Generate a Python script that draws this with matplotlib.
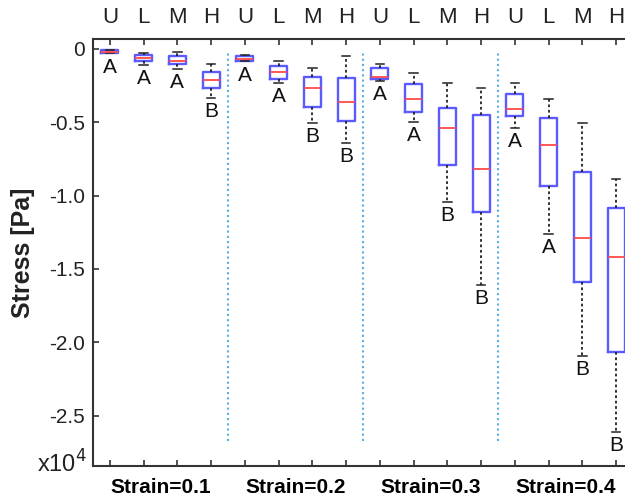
import numpy as np
import matplotlib
matplotlib.use("Agg")
import matplotlib.pyplot as plt

plt.rcParams['font.family'] = ['Liberation Sans', 'DejaVu Sans']

# ---------------- data (stress in units of 1e4 Pa) ----------------
groups = ["U", "L", "M", "H"]
strains = ["Strain=0.1", "Strain=0.2", "Strain=0.3", "Strain=0.4"]

whis_hi = [-0.005, -0.03, -0.022, -0.104,
           -0.041, -0.082, -0.132, -0.046,
           -0.104, -0.161, -0.234, -0.268,
           -0.234, -0.341, -0.507, -0.888]
q3 = [-0.010, -0.040, -0.048, -0.159,
      -0.046, -0.114, -0.189, -0.200,
      -0.132, -0.241, -0.400, -0.450,
      -0.307, -0.472, -0.836, -1.082]
med = [-0.018, -0.059, -0.080, -0.209,
       -0.070, -0.159, -0.264, -0.359,
       -0.193, -0.343, -0.540, -0.820,
       -0.411, -0.652, -1.288, -1.420]
q1 = [-0.025, -0.080, -0.102, -0.268,
      -0.082, -0.205, -0.397, -0.489,
      -0.202, -0.427, -0.790, -1.113,
      -0.455, -0.932, -1.590, -2.067]
whis_lo = [-0.030, -0.110, -0.136, -0.336,
           -0.085, -0.230, -0.502, -0.639,
           -0.218, -0.495, -1.040, -1.609,
           -0.536, -1.261, -2.093, -2.609]
letters = ["A", "A", "A", "B",
           "A", "A", "B", "B",
           "A", "A", "B", "B",
           "A", "A", "B", "B"]

pos = np.arange(1, len(med) + 1)

stats = []
for i in range(len(med)):
    stats.append({'whislo': whis_lo[i], 'q1': q1[i], 'med': med[i],
                  'q3': q3[i], 'whishi': whis_hi[i], 'fliers': []})

fig = plt.figure(figsize=(6.25, 4.98), dpi=100)
ax = fig.add_axes([0.1488, 0.0643, 0.8640, 0.8574])

ax.bxp(stats, positions=pos, widths=0.5, capwidths=0.25, showfliers=False,
       boxprops=dict(color='#5a5aff', linewidth=1.7),
       medianprops=dict(color='#ff4a4a', linewidth=1.3),
       whiskerprops=dict(color='#222222', linewidth=1.3, linestyle=(0, (1.5, 1.5))),
       capprops=dict(color='#222222', linewidth=1.1))

# significance letters under the lower whisker
for p, lo, t in zip(pos, whis_lo, letters):
    ax.annotate(t, (p, lo), xytext=(0, -3), textcoords='offset points',
                ha='center', va='top', fontsize=15, color='#111111')

# separators between strain groups
for b in [4.5, 8.5, 12.5]:
    ax.vlines(b, -2.67, -0.03, colors='#5aaee0', linestyles=(0, (1, 1.5)), linewidth=1.5)

ax.set_xlim(0.5, 16.5)
ax.set_ylim(-2.843, 0.068)

# top: U L M H
ax.set_xticks(pos)
ax.set_xticklabels(groups * 4)
ax.tick_params(axis='x', which='major', top=True, bottom=True, labeltop=True,
               labelbottom=False, direction='in', length=4, width=1.2,
               labelsize=16, pad=8, colors='#333333', labelcolor='#222222')
# bottom: strain groups
ax.set_xticks([2.5, 6.5, 10.5, 14.5], minor=True)
ax.set_xticklabels(strains, minor=True, fontweight='bold')
ax.tick_params(axis='x', which='minor', length=0, labelbottom=True,
               labeltop=False, labelsize=15, pad=9)

ax.set_yticks([0, -0.5, -1.0, -1.5, -2.0, -2.5])
ax.set_yticklabels(["0", "-0.5", "-1.0", "-1.5", "-2.0", "-2.5"])
ax.tick_params(axis='y', direction='in', length=4, width=1.2, labelsize=15,
               pad=6, colors='#333333', labelcolor='#222222', right=False)

for s in ['left', 'top', 'bottom']:
    ax.spines[s].set_linewidth(1.5)
    ax.spines[s].set_color('#333333')
ax.spines['right'].set_visible(False)

ax.set_ylabel('Stress [Pa]', fontsize=18, fontweight='bold', color='#222222')
ax.yaxis.set_label_coords(-0.108, 0.5)

ax.text(-0.012, -0.016, r'x10$^4$', transform=ax.transAxes, ha='right', va='baseline',
        fontsize=17, color='#222222')

fig.savefig('out.png', dpi=100)
